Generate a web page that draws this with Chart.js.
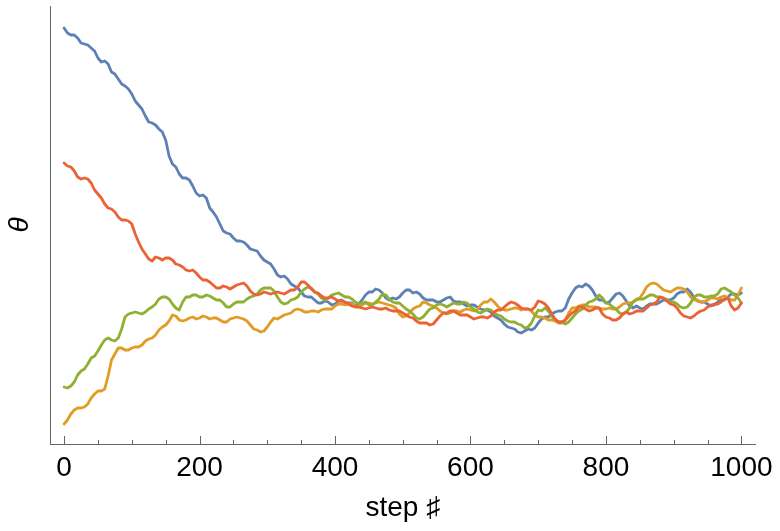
<!DOCTYPE html>
<html><head><meta charset="utf-8">
<script src="https://cdn.jsdelivr.net/npm/chart.js@4"></script>
<style>html,body{margin:0;padding:0;background:#fff}#wrap{width:780px;height:531px}</style>
</head><body><div id="wrap"><canvas id="c" width="780" height="531"></canvas></div>
<script>
const steps = [0,10,20,30,40,50,60,70,80,90,100,110,120,130,140,150,160,170,180,190,200,210,220,230,240,250,260,270,280,290,300,310,320,330,340,350,360,370,380,390,400,410,420,430,440,450,460,470,480,490,500,510,520,530,540,550,560,570,580,590,600,610,620,630,640,650,660,670,680,690,700,710,720,730,740,750,760,770,780,790,800,810,820,830,840,850,860,870,880,890,900,910,920,930,940,950,960,970,980,990,1000];
const midSteps = [5,15,25,35,45,55,65,75,85,95,105,115,125,135,145,155,165,175,185,195,205,215,225,235,245,255,265,275,285,295,305,315,325,335,345,355,365,375,385,395,405,415,425,435,445,455,465,475,485,495,505,515,525,535,545,555,565,575,585,595,605,615,625,635,645,655,665,675,685,695,705,715,725,735,745,755,765,775,785,795,805,815,825,835,845,855,865,875,885,895,905,915,925,935,945,955,965,975,985,995];

const blueSeries = [4.16,4.09,4.06,4.00,3.96,3.86,3.83,3.72,3.65,3.58,
3.50,3.39,3.28,3.21,3.15,3.04,2.80,2.70,2.66,2.58,
2.48,2.46,2.32,2.20,2.11,2.06,2.03,1.99,1.94,1.88,
1.82,1.75,1.67,1.65,1.58,1.52,1.47,1.44,1.41,1.42,
1.40,1.44,1.41,1.38,1.44,1.52,1.55,1.51,1.44,1.45,
1.51,1.54,1.52,1.46,1.44,1.42,1.44,1.47,1.42,1.40,
1.39,1.37,1.34,1.32,1.26,1.20,1.16,1.12,1.13,1.14,
1.21,1.27,1.30,1.33,1.36,1.51,1.58,1.60,1.54,1.44,
1.41,1.46,1.51,1.43,1.36,1.36,1.38,1.40,1.42,1.44,
1.46,1.52,1.55,1.46,1.42,1.40,1.39,1.44,1.47,1.50,
1.51];
const blueMid = [4.11,4.09,4.01,3.99,3.93,3.82,3.80,3.70,3.60,3.55,
3.43,3.35,3.22,3.19,3.12,2.88,2.77,2.66,2.64,2.51,
2.49,2.36,2.27,2.13,2.10,2.03,2.02,1.95,1.93,1.84,
1.80,1.69,1.68,1.60,1.56,1.48,1.47,1.41,1.43,1.39,
1.43,1.41,1.41,1.40,1.49,1.52,1.54,1.46,1.46,1.47,
1.54,1.51,1.50,1.44,1.44,1.42,1.46,1.43,1.42,1.38,
1.39,1.35,1.34,1.28,1.24,1.17,1.15,1.11,1.15,1.16,
1.25,1.27,1.32,1.33,1.45,1.56,1.57,1.58,1.48,1.44,
1.42,1.50,1.48,1.38,1.38,1.35,1.40,1.40,1.44,1.44,
1.50,1.52,1.52,1.43,1.42,1.38,1.42,1.44,1.50,1.49];

const redSeries = [2.81,2.77,2.67,2.66,2.61,2.50,2.40,2.35,2.27,2.24,
2.20,2.02,1.90,1.83,1.86,1.86,1.84,1.79,1.74,1.74,
1.67,1.64,1.59,1.56,1.57,1.57,1.60,1.58,1.50,1.50,
1.51,1.51,1.51,1.52,1.54,1.62,1.59,1.52,1.48,1.46,
1.45,1.43,1.40,1.37,1.36,1.36,1.36,1.35,1.34,1.33,
1.31,1.27,1.23,1.21,1.19,1.24,1.31,1.33,1.31,1.29,
1.27,1.26,1.27,1.28,1.34,1.37,1.42,1.39,1.35,1.34,
1.43,1.40,1.30,1.22,1.24,1.31,1.37,1.35,1.34,1.36,
1.27,1.24,1.26,1.32,1.31,1.33,1.36,1.40,1.47,1.43,
1.39,1.31,1.27,1.28,1.33,1.37,1.40,1.42,1.46,1.34,
1.41];
const redMid = [2.78,2.73,2.65,2.65,2.54,2.46,2.36,2.32,2.24,2.23,
2.10,1.95,1.85,1.87,1.84,1.86,1.80,1.77,1.73,1.71,
1.64,1.62,1.56,1.58,1.55,1.59,1.61,1.53,1.49,1.52,
1.50,1.52,1.50,1.54,1.57,1.62,1.55,1.51,1.46,1.47,
1.43,1.42,1.38,1.37,1.35,1.37,1.35,1.36,1.33,1.33,
1.29,1.26,1.21,1.21,1.20,1.28,1.31,1.33,1.29,1.29,
1.25,1.27,1.26,1.32,1.34,1.40,1.41,1.36,1.35,1.37,
1.42,1.36,1.25,1.22,1.28,1.33,1.37,1.33,1.36,1.30,
1.26,1.24,1.30,1.30,1.33,1.33,1.39,1.42,1.46,1.40,
1.36,1.28,1.26,1.31,1.34,1.39,1.40,1.45,1.38,1.36];

const greenSeries = [0.57,0.58,0.69,0.75,0.86,0.93,1.04,1.04,1.06,1.27,
1.31,1.31,1.32,1.37,1.45,1.47,1.40,1.34,1.47,1.49,
1.47,1.49,1.46,1.44,1.37,1.40,1.42,1.45,1.48,1.54,
1.56,1.53,1.42,1.41,1.45,1.52,1.57,1.52,1.46,1.46,
1.50,1.49,1.47,1.42,1.41,1.39,1.42,1.50,1.45,1.41,
1.38,1.33,1.26,1.27,1.35,1.39,1.39,1.39,1.40,1.42,
1.37,1.32,1.33,1.34,1.29,1.25,1.22,1.20,1.16,1.21,
1.34,1.36,1.28,1.22,1.20,1.26,1.33,1.39,1.43,1.49,
1.41,1.37,1.31,1.32,1.42,1.45,1.47,1.49,1.47,1.44,
1.42,1.37,1.37,1.47,1.49,1.47,1.48,1.55,1.54,1.49,
1.41];
const greenMid = [0.56,0.62,0.73,0.80,0.88,0.99,1.06,1.03,1.15,1.30,
1.32,1.30,1.35,1.40,1.47,1.45,1.36,1.42,1.47,1.49,
1.47,1.48,1.44,1.41,1.37,1.42,1.42,1.47,1.50,1.56,
1.56,1.47,1.40,1.44,1.47,1.55,1.56,1.50,1.44,1.49,
1.51,1.47,1.45,1.40,1.42,1.39,1.45,1.49,1.42,1.41,
1.35,1.30,1.25,1.31,1.36,1.40,1.37,1.41,1.40,1.41,
1.35,1.31,1.35,1.31,1.28,1.23,1.22,1.19,1.17,1.28,
1.33,1.33,1.24,1.22,1.22,1.30,1.35,1.42,1.45,1.46,
1.40,1.35,1.30,1.36,1.44,1.45,1.49,1.47,1.46,1.42,
1.40,1.36,1.41,1.49,1.47,1.48,1.50,1.56,1.52,1.46];

const yellowSeries = [0.20,0.30,0.36,0.37,0.46,0.53,0.55,0.84,0.96,0.94,
0.96,0.97,1.03,1.06,1.14,1.19,1.29,1.24,1.24,1.27,
1.26,1.27,1.26,1.24,1.22,1.26,1.26,1.23,1.15,1.12,
1.17,1.26,1.27,1.30,1.34,1.34,1.32,1.33,1.34,1.35,
1.38,1.40,1.40,1.38,1.39,1.41,1.41,1.41,1.39,1.36,
1.27,1.31,1.37,1.42,1.39,1.36,1.31,1.31,1.33,1.34,
1.34,1.34,1.42,1.45,1.38,1.34,1.35,1.36,1.35,1.33,
1.27,1.26,1.24,1.21,1.24,1.36,1.38,1.39,1.37,1.36,
1.35,1.35,1.37,1.41,1.42,1.46,1.57,1.61,1.57,1.53,
1.54,1.56,1.52,1.44,1.42,1.44,1.46,1.47,1.46,1.44,
1.56];
const yellowMid = [0.24,0.34,0.36,0.40,0.50,0.53,0.68,0.90,0.96,0.94,
0.97,0.99,1.05,1.09,1.17,1.23,1.28,1.23,1.26,1.25,
1.28,1.25,1.26,1.22,1.25,1.27,1.25,1.19,1.14,1.13,
1.22,1.25,1.29,1.31,1.35,1.32,1.33,1.32,1.35,1.35,
1.40,1.39,1.40,1.37,1.41,1.40,1.42,1.40,1.38,1.30,
1.28,1.35,1.38,1.41,1.38,1.33,1.30,1.33,1.32,1.35,
1.33,1.39,1.42,1.42,1.35,1.34,1.36,1.34,1.35,1.29,
1.27,1.24,1.23,1.21,1.31,1.36,1.39,1.37,1.37,1.35,
1.36,1.35,1.40,1.41,1.45,1.51,1.60,1.60,1.54,1.52,
1.56,1.55,1.47,1.44,1.42,1.46,1.45,1.48,1.44,1.49];

const majorTicks = [0,200,400,600,800,1000];
const minorTicks = [50,100,150,250,300,350,450,500,550,650,700,750,850,900,950];
const xTitle = 'step \u266F';
const yTitle = '\u03B8';

const FONT = '"Liberation Sans", Arial, "DejaVu Sans", sans-serif';
const toPts = (main, mid) => {
  const pts = [];
  main.forEach((v, i) => {
    pts.push({x: steps[i], y: v});
    if (i < mid.length) pts.push({x: midSteps[i], y: mid[i]});
  });
  return pts;
};

const tickPlugin = {
  id: 'inTicks',
  beforeDatasetsDraw(chart) {
    const xs = chart.scales.x, ctx = chart.ctx, y0 = chart.chartArea.bottom;
    ctx.save();
    ctx.strokeStyle = '#666';
    ctx.lineWidth = 1;
    const draw = (v, len) => {
      const px = Math.round(xs.getPixelForValue(v)) + 0.5;
      ctx.beginPath(); ctx.moveTo(px, y0); ctx.lineTo(px, y0 - len); ctx.stroke();
    };
    majorTicks.forEach(v => draw(v, 8));
    minorTicks.forEach(v => draw(v, 4));
    ctx.restore();
  }
};

const ds = (label, main, mid, color, order) => ({
  label, data: toPts(main, mid), borderColor: color, backgroundColor: color,
  borderWidth: 2.8, pointRadius: 0, tension: 0, fill: false, order,
  borderJoinStyle: 'round', borderCapStyle: 'round'
});

new Chart(document.getElementById('c'), {
  type: 'line',
  data: {
    datasets: [
      ds('blue', blueSeries, blueMid, '#5E81B5', 3),
      ds('yellow', yellowSeries, yellowMid, '#E19C24', 2),
      ds('green', greenSeries, greenMid, '#8FB032', 1),
      ds('red', redSeries, redMid, '#EB6235', 0)
    ]
  },
  options: {
    responsive: false, animation: false, devicePixelRatio: 1,
    layout: {padding: {top: 6, right: 23, left: 0, bottom: 0}},
    plugins: {legend: {display: false}, tooltip: {enabled: false}},
    scales: {
      x: {
        type: 'linear', min: -20.8, max: 1020.8,
        afterBuildTicks: s => { s.ticks = majorTicks.map(v => ({value: v})); },
        afterFit: s => { s.height = 87; },
        ticks: {font: {family: FONT, size: 28}, color: '#000', padding: 7, maxRotation: 0, autoSkip: false,
                callback: v => String(v)},
        grid: {display: false, drawTicks: false},
        border: {display: true, color: '#666', width: 1},
        title: {display: true, text: xTitle, color: '#000', font: {family: FONT, size: 28}, padding: {top: 0, bottom: 6}}
      },
      y: {
        type: 'linear', min: 0, max: 4.38,
        afterFit: s => { s.width = 50; },
        ticks: {display: false},
        grid: {display: false, drawTicks: false},
        border: {display: true, color: '#666', width: 1},
        title: {display: true, text: yTitle, color: '#000', font: {family: FONT, size: 28, style: 'italic'}, padding: {top: 3, bottom: 0}}
      }
    }
  },
  plugins: [tickPlugin]
});
</script>
</body></html>
